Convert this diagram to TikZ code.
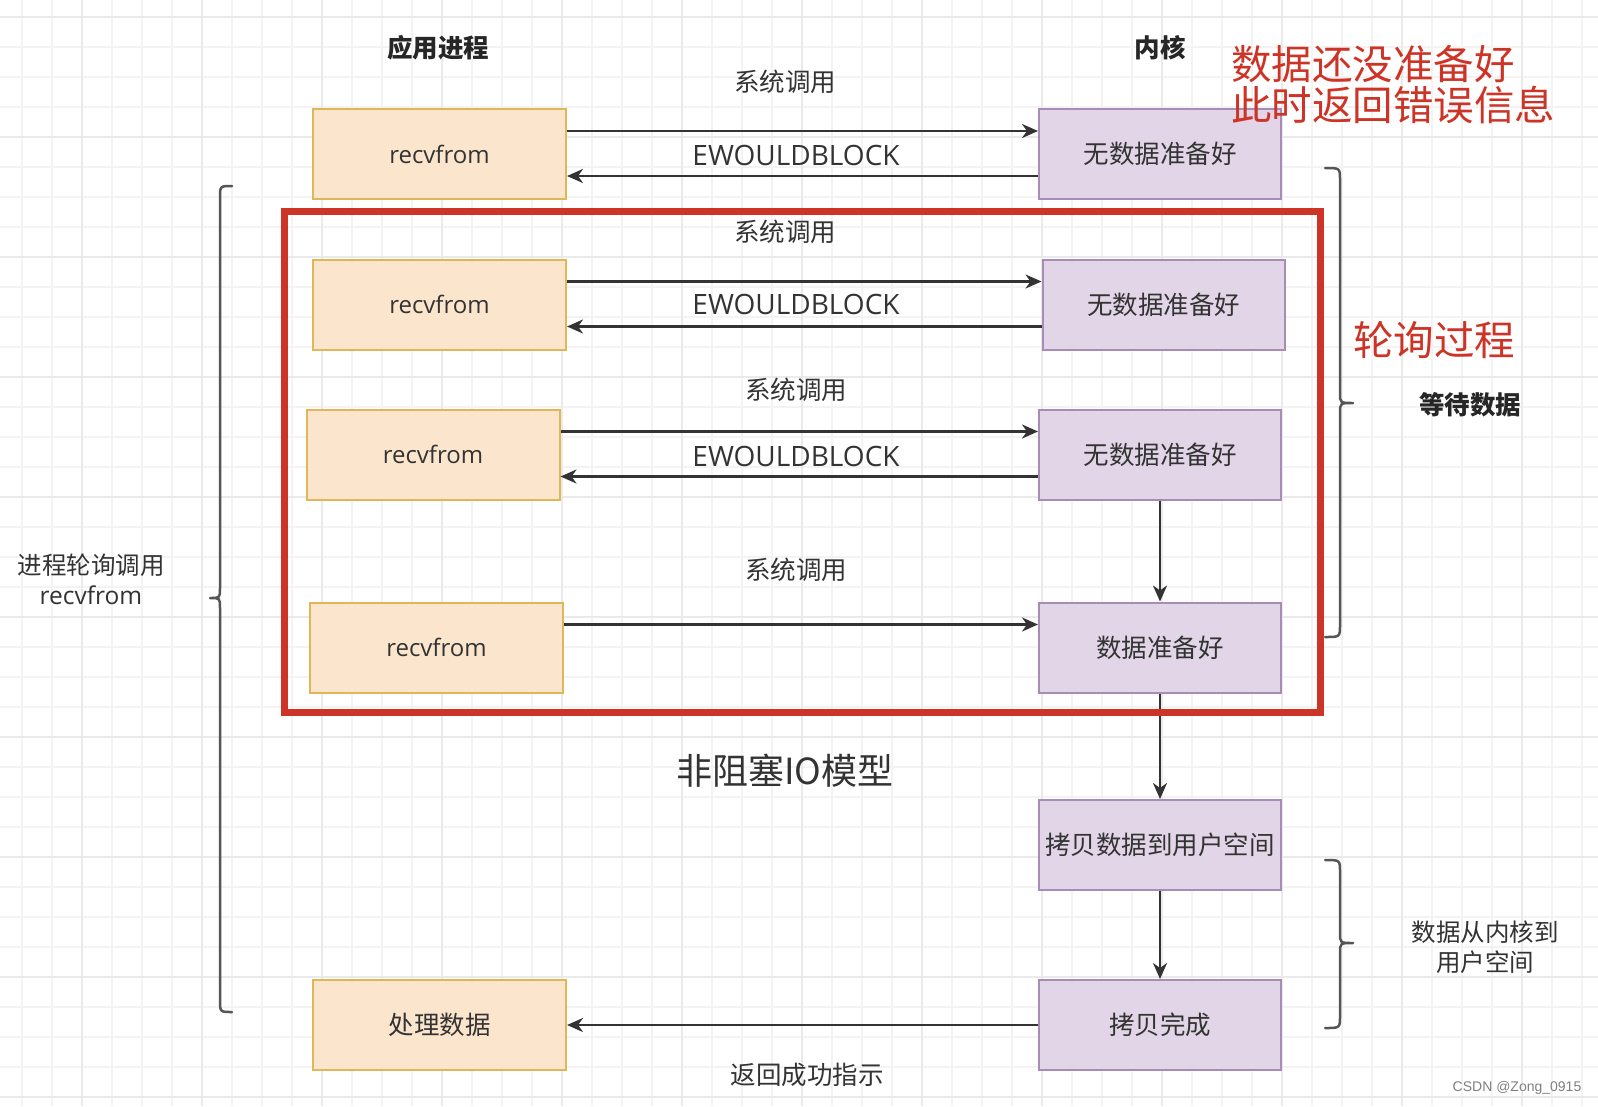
\documentclass[tikz,border=0pt]{standalone}
\usepackage{fontspec}
\setmainfont{Noto Sans CJK SC}
\newfontfamily\latinfont{Open Sans}
\newfontfamily\markfont{Liberation Sans}
\usetikzlibrary{arrows.meta}
\definecolor{txt}{HTML}{333333}
\definecolor{appfill}{HTML}{FBE6CD}
\definecolor{appdraw}{HTML}{E0B658}
\definecolor{kfill}{HTML}{E1D5E7}
\definecolor{kdraw}{HTML}{A88CB8}
\definecolor{redc}{HTML}{CD3426}
\definecolor{gridminor}{HTML}{F3F3F3}
\definecolor{gridmajor}{HTML}{EAEAEA}
\definecolor{bracec}{HTML}{555555}
\tikzset{
  appbox/.style={draw=appdraw, fill=appfill, line width=2pt, minimum width=253pt, minimum height=90pt, inner sep=0pt, text=txt, font=\latinfont\fontsize{24}{28}\selectfont},
  kbox/.style={draw=kdraw, fill=kfill, line width=2pt, minimum width=242pt, minimum height=90pt, inner sep=0pt, text=txt, font=\fontsize{25.5}{30}\selectfont},
  conn/.style={draw=txt, line width=2.5pt, -{Stealth[length=16pt,width=14pt,inset=5pt]}},
  lbl/.style={text=txt, inner sep=0pt, font=\fontsize{25.5}{30}\selectfont},
  ewb/.style={text=txt, inner sep=0pt, font=\latinfont\fontsize{28}{32}\selectfont},
  hdr/.style={text=black!85, inner sep=0pt, font=\bfseries\fontsize{25.5}{30}\selectfont},
  redtxt/.style={text=redc, inner sep=0pt, font=\fontsize{40.5}{41}\selectfont},
  bracestyle/.style={draw=bracec, line width=2.5pt, line cap=round, line join=round},
}
\begin{document}
\begin{tikzpicture}[x=1pt,y=-1pt]
\useasboundingbox (0,0) rectangle (1598,1106);
\fill[white] (0,0) rectangle (1598,1106);
% grid
\foreach \x in {22,52,...,1598} \draw[gridminor, line width=1.2pt] (\x,0) -- (\x,1106);
\foreach \y in {17,47,...,1106} \draw[gridminor, line width=1.2pt] (0,\y) -- (1598,\y);
\foreach \x in {82,202,...,1598} \draw[gridmajor, line width=1.5pt] (\x,0) -- (\x,1106);
\foreach \y in {17,137,...,1106} \draw[gridmajor, line width=1.5pt] (0,\y) -- (1598,\y);

% headers
\node[hdr] (happ) at (438,48) {应用进程};
\node[hdr] (hk) at (1160,48) {内核};

% boxes
\node[appbox] (a1) at (439.5,154) {recvfrom};
\node[kbox] (k1) at (1160,154) {无数据准备好};
\node[appbox] (a2) at (439.5,304.5) {recvfrom};
\node[kbox] (k2) at (1163.5,304.5) {无数据准备好};
\node[appbox] (a3) at (433,454.5) {recvfrom};
\node[kbox] (k3) at (1160,454.5) {无数据准备好};
\node[appbox] (a4) at (436.5,647.5) {recvfrom};
\node[kbox] (k4) at (1160,647.5) {数据准备好};
\node[kbox] (kc) at (1160,845) {拷贝数据到用户空间};
\node[kbox] (kd) at (1160,1025) {拷贝完成};
\node[appbox, font=\fontsize{25.5}{30}\selectfont] (ap) at (439.5,1025) {处理数据};

% red note on top
\node[redtxt, anchor=west, align=left] (note) at (1231,84.5) {数据还没准备好\\此时返回错误信息};

% arrows
\draw[conn] ([yshift=23pt]a1.east) -- ([yshift=23pt]k1.west);
\draw[conn] ([yshift=-22pt]k1.west) -- ([yshift=-22pt]a1.east);
\draw[conn] ([yshift=23pt]a2.east) -- ([yshift=23pt]k2.west);
\draw[conn] ([yshift=-22pt]k2.west) -- ([yshift=-22pt]a2.east);
\draw[conn] ([yshift=23pt]a3.east) -- ([yshift=23pt]k3.west);
\draw[conn] ([yshift=-22pt]k3.west) -- ([yshift=-22pt]a3.east);
\draw[conn] ([yshift=23pt]a4.east) -- ([yshift=23pt]k4.west);
\draw[conn] (k3.south) -- (k4.north);
\draw[conn] (k4.south) -- (kc.north);
\draw[conn] (kc.south) -- (kd.north);
\draw[conn] (kd.west) -- (ap.east);

% labels
\node[lbl] (s1) at (785,82) {系统调用};
\node[ewb] (e1) at (796,155) {EWOULDBLOCK};
\node[lbl] (s2) at (785,232) {系统调用};
\node[ewb] (e2) at (796,304) {EWOULDBLOCK};
\node[lbl] (s3) at (796,390) {系统调用};
\node[ewb] (e3) at (796,456) {EWOULDBLOCK};
\node[lbl] (s4) at (796,570) {系统调用};
\node[lbl] (ret) at (807,1075) {返回成功指示};
\node[text=txt, inner sep=0pt, font=\fontsize{36}{40}\selectfont] (title) at (785,771) {非阻塞IO模型};

% red frame
\draw[redc, line width=7pt] (284,211) rectangle (1320,712);
\node[redtxt] (poll) at (1434,340) {轮询过程};

% left brace
\draw[bracestyle] (232,186) .. controls (220,186) .. (220,198) -- (220,588)
  .. controls (220,598) .. (210,598) .. controls (220,598) .. (220,608)
  -- (220,1000) .. controls (220,1012) .. (232,1012);
\node[lbl, align=center, font=\fontsize{24.5}{30}\selectfont] (lpoll) at (91,579) {进程轮询调用\\{\latinfont recvfrom}};

% right brace 1
\draw[bracestyle] (1325,168) .. controls (1340,168) .. (1340,180) -- (1340,393)
  .. controls (1340,403) .. (1353,403) .. controls (1340,403) .. (1340,413)
  -- (1340,625) .. controls (1340,637) .. (1325,637);
\node[hdr] (wait) at (1470,405) {等待数据};

% right brace 2
\draw[bracestyle] (1325,860) .. controls (1340,860) .. (1340,872) -- (1340,933)
  .. controls (1340,943) .. (1353,943) .. controls (1340,943) .. (1340,953)
  -- (1340,1016) .. controls (1340,1028) .. (1325,1028);
\node[lbl, align=center, font=\fontsize{24.5}{30}\selectfont] (copylbl) at (1485,947.5) {数据从内核到\\用户空间};

% watermark
\node[text=black!50, inner sep=0pt, font=\markfont\fontsize{14}{16}\selectfont] (wm) at (1517,1088) {CSDN @Zong\_0915};
\end{tikzpicture}
\end{document}
